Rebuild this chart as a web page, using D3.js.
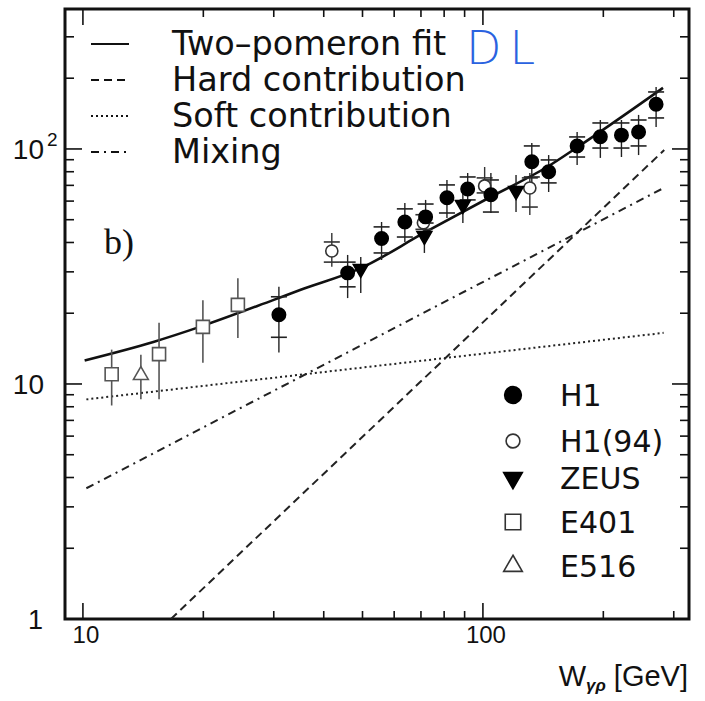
<!DOCTYPE html>
<html>
<head>
<meta charset="utf-8">
<script src="https://cdn.jsdelivr.net/npm/d3@7"></script>
<style>
body { margin: 0; background: #fff; }
</style>
</head>
<body>
<script>
// model curves, W in GeV vs sigma
const fitW = [10.1, 15, 19.6, 30, 34.9, 49.5, 71.2, 104.7, 145, 172, 282]
const fitS = [12.6, 15.1, 17.5, 22.8, 25.1, 31.1, 43.9, 62.6, 84, 101.6, 182]
const hardW = [16.6, 284]
const hardS = [1, 99]
const softW = [10.2, 283]
const softS = [8.6, 16.5]
const mixW = [10.2, 282]
const mixS = [3.6, 68]

// H1: value, stat band (crossbars), total band (line)
const h1W = [30.9, 45.9, 55.8, 63.8, 71.9, 81.3, 91.6, 104.7, 132.5, 146, 172, 196.6, 222, 245, 271]
const h1S = [19.7, 29.7, 41.6, 48.9, 51.4, 62.0, 67.6, 63.8, 88.2, 80.0, 103, 112.7, 114.5, 118, 155]
const h1StatLo = [15.8, 25.9, 36.1, 42.2, 48.4, 53.4, 60.7, 53.9, 76.0, 71.7, 92.4, 100.9, 100.9, 103.0, 135.5]
const h1StatHi = [23.5, 33.0, 46.6, 55.6, 58.3, 70.3, 76.0, 73.8, 103.0, 89.8, 112.5, 129.0, 129.0, 132.8, 174.8]
const h1TotLo = [13.6, 23.2, 33.7, 40.2, 43.9, 50.9, 58.9, 53.4, 72.4, 65.6, 85.5, 91.6, 92.4, 94.2, 124.1]
const h1TotHi = [25.9, 35.4, 48.9, 58.9, 60.7, 73.8, 79.0, 79.0, 106.1, 94.2, 118.1, 132.8, 132.8, 139.6, 183.6]

const h94W = [41.9, 71, 101, 131]
const h94S = [36.8, 48.5, 69.6, 68.2]
const h94StatLo = [33.0, 45.5, 65.0, 56.6]
const h94StatHi = [40.2, 52.5, 75.3, 75.3]
const h94TotLo = [31.5, 43.5, 65.0, 52.4]
const h94TotHi = [43.9, 55.0, 83.8, 79.0]

const zeusW = [49.5, 71.4, 89.1, 121]
const zeusS = [30.9, 42.7, 57.9, 66.3]
const zeusLo = [24.4, 36.1, 48.4, 53.9]
const zeusHi = [34.7, 48.4, 65.0, 77.5]

const e401W = [11.8, 15.5, 19.95, 24.4]
const e401S = [11.0, 13.4, 17.5, 21.7]
const e401Lo = [8.1, 8.6, 12.3, 15.7]
const e401Hi = [14.0, 18.2, 22.7, 28.2]

const e516W = [13.96]
const e516S = [10.9]
const e516Lo = [8.6]
const e516Hi = [13.3]

const curveNames = ['Two\u2013pomeron fit', 'Hard contribution', 'Soft contribution', 'Mixing']
const seriesNames = ['H1', 'H1(94)', 'ZEUS', 'E401', 'E516']
const xTickLabels = ['10', '100']

const width = 705, height = 701
const pl = 65, pr = 689, pt = 9, pb = 619

const x = d3.scaleLog().domain([9.02, 327.5]).range([pl, pr])
const y = d3.scaleLog().domain([1, 394]).range([pb, pt])

const svg = d3.select('body').append('svg')
    .attr('width', width)
    .attr('height', height)
    .style('font-family', 'DejaVu Sans, sans-serif')

svg.append('rect').attr('width', width).attr('height', height).attr('fill', '#fff')

svg.append('defs').append('clipPath').attr('id', 'plot')
    .append('rect')
    .attr('x', pl).attr('y', pt)
    .attr('width', pr - pl).attr('height', pb - pt)

// ticks on all four sides
const isMajor = v => Math.abs(Math.log10(v) - Math.round(Math.log10(v))) < 1e-6
const ticks = svg.append('g').attr('stroke', '#111').attr('stroke-width', 1.6)
x.ticks().forEach(v => {
    const len = isMajor(v) ? 16 : 8
    ticks.append('line').attr('x1', x(v)).attr('x2', x(v)).attr('y1', pb).attr('y2', pb - len)
    ticks.append('line').attr('x1', x(v)).attr('x2', x(v)).attr('y1', pt).attr('y2', pt + len)
})
y.ticks().forEach(v => {
    const len = isMajor(v) ? 17 : 9
    ticks.append('line').attr('y1', y(v)).attr('y2', y(v)).attr('x1', pl).attr('x2', pl + len)
    ticks.append('line').attr('y1', y(v)).attr('y2', y(v)).attr('x1', pr).attr('x2', pr - len)
})

svg.append('rect')
    .attr('x', pl).attr('y', pt)
    .attr('width', pr - pl).attr('height', pb - pt)
    .attr('fill', 'none').attr('stroke', '#111').attr('stroke-width', 3)

// tick labels
const lab = svg.append('g').style('font-family', 'Liberation Sans, Arial, sans-serif').attr('fill', '#111')
lab.append('text').attr('x', 43).attr('y', y(1) + 10).attr('text-anchor', 'end').attr('font-size', 27).text('1')
lab.append('text').attr('x', 44).attr('y', y(10) + 10).attr('text-anchor', 'end').attr('font-size', 28).text('10')
lab.append('text').attr('x', 44).attr('y', y(100) + 10).attr('text-anchor', 'end').attr('font-size', 28).text('10')
lab.append('text').attr('x', 47).attr('y', y(100) - 3).attr('font-size', 19).text('2')

;[10, 100].forEach((v, i) => {
    lab.append('text').attr('x', x(v) + 3).attr('y', 643)
        .attr('text-anchor', 'middle').attr('font-size', 24).text(xTickLabels[i])
})

const xt = lab.append('text').attr('x', 688).attr('y', 686).attr('text-anchor', 'end').attr('font-size', 29)
xt.append('tspan').text('W')
xt.append('tspan').attr('font-size', 17).attr('dy', 5).attr('font-style', 'italic').attr('font-weight', 'bold').text('\u03b3\u03c1')
xt.append('tspan').attr('dy', -5).text(' [GeV]')

// curves
const plot = svg.append('g').attr('clip-path', 'url(#plot)')
const line = d3.line().x(d => x(d[0])).y(d => y(d[1]))
const zip = (a, b) => a.map((v, i) => [v, b[i]])

const styles = [
    { dash: null, w: 2.6 },
    { dash: '8,5', w: 2 },
    { dash: '2,3', w: 2 },
    { dash: '8,5,2,5', w: 2 }
]

plot.append('path').datum(zip(hardW, hardS))
    .attr('d', line).attr('fill', 'none').attr('stroke', '#222')
    .attr('stroke-width', styles[1].w).attr('stroke-dasharray', styles[1].dash)
plot.append('path').datum(zip(softW, softS))
    .attr('d', line).attr('fill', 'none').attr('stroke', '#222')
    .attr('stroke-width', styles[2].w).attr('stroke-dasharray', styles[2].dash)
plot.append('path').datum(zip(mixW, mixS))
    .attr('d', line).attr('fill', 'none').attr('stroke', '#222')
    .attr('stroke-width', styles[3].w).attr('stroke-dasharray', styles[3].dash)
plot.append('path').datum(zip(fitW, fitS))
    .attr('d', line.curve(d3.curveMonotoneX)).attr('fill', 'none').attr('stroke', '#111')
    .attr('stroke-width', styles[0].w)

// error bars
function bars(W, lo, hi, color, w) {
    plot.append('g').selectAll()
        .data(W)
        .enter().append('line')
        .attr('x1', d => x(d)).attr('x2', d => x(d))
        .attr('y1', (d, i) => y(lo[i])).attr('y2', (d, i) => y(hi[i]))
        .attr('stroke', color).attr('stroke-width', w)
}
function crosses(W, vals, color) {
    plot.append('g').selectAll()
        .data(W)
        .enter().append('line')
        .attr('x1', d => x(d) - 8).attr('x2', d => x(d) + 8)
        .attr('y1', (d, i) => y(vals[i])).attr('y2', (d, i) => y(vals[i]))
        .attr('stroke', color).attr('stroke-width', 1.6)
}

bars(e401W, e401Lo, e401Hi, '#555', 1.6)
bars(e516W, e516Lo, e516Hi, '#555', 1.6)
bars(zeusW, zeusLo, zeusHi, '#222', 1.4)
bars(h94W, h94TotLo, h94TotHi, '#333', 1.4)
crosses(h94W, h94StatLo, '#333')
crosses(h94W, h94StatHi, '#333')
bars(h1W, h1TotLo, h1TotHi, '#222', 1.4)
crosses(h1W, h1StatLo, '#222')
crosses(h1W, h1StatHi, '#222')

// markers
const markers = [
    { sym: d3.symbolCircle, size: 140, fill: '#000', stroke: '#000', rot: 0 },
    { sym: d3.symbolCircle, size: 115, fill: '#fff', stroke: '#333', rot: 0 },
    { sym: d3.symbolTriangle, size: 95, fill: '#000', stroke: '#000', rot: 180 },
    { sym: d3.symbolSquare, size: 170, fill: '#fff', stroke: '#555', rot: 0 },
    { sym: d3.symbolTriangle, size: 95, fill: '#fff', stroke: '#555', rot: 0 }
]

function points(W, S, m) {
    plot.append('g').selectAll()
        .data(W)
        .enter().append('path')
        .attr('d', d3.symbol().type(m.sym).size(m.size))
        .attr('transform', (d, i) => `translate(${x(d)},${y(S[i])}) rotate(${m.rot})`)
        .attr('fill', m.fill).attr('stroke', m.stroke).attr('stroke-width', 1.6)
}

points(e401W, e401S, markers[3])
points(e516W, e516S, markers[4])
points(h94W, h94S, markers[1])
points(zeusW, zeusS, markers[2])
points(h1W, h1S, markers[0])

// top legend (curves)
const leg = svg.append('g').attr('fill', '#111')
curveNames.forEach((name, i) => {
    const yy = 44 + i * 36
    leg.append('line').attr('x1', 91).attr('x2', 129).attr('y1', yy).attr('y2', yy)
        .attr('stroke', '#111').attr('stroke-width', i === 0 ? 2.2 : 1.8)
        .attr('stroke-dasharray', styles[i].dash)
    leg.append('text').attr('x', 172).attr('y', yy + 11).attr('font-size', 33.5).text(name)
})

// handwritten note
svg.append('text').attr('x', 466).attr('y', 64)
    .attr('font-size', 46).attr('font-weight', 200).attr('letter-spacing', 8)
    .attr('fill', '#2a62e0').text('DL')

svg.append('text').attr('x', 104).attr('y', 254)
    .style('font-family', 'Liberation Serif, Times New Roman, serif')
    .attr('font-size', 36).attr('fill', '#111').text('b)')

// bottom-right legend (data sets)
const legendSize = [220, 150, 150, 240, 150]
seriesNames.forEach((name, i) => {
    const yy = [395, 441, 478, 522, 566][i]
    const m = markers[i]
    svg.append('path')
        .attr('d', d3.symbol().type(m.sym).size(legendSize[i]))
        .attr('transform', `translate(513,${yy}) rotate(${m.rot})`)
        .attr('fill', m.fill).attr('stroke', i > 2 ? '#333' : m.stroke).attr('stroke-width', 1.6)
    svg.append('text').attr('x', 560).attr('y', yy + 11).attr('font-size', 30)
        .attr('fill', '#111').text(name)
})
</script>
</body>
</html>
